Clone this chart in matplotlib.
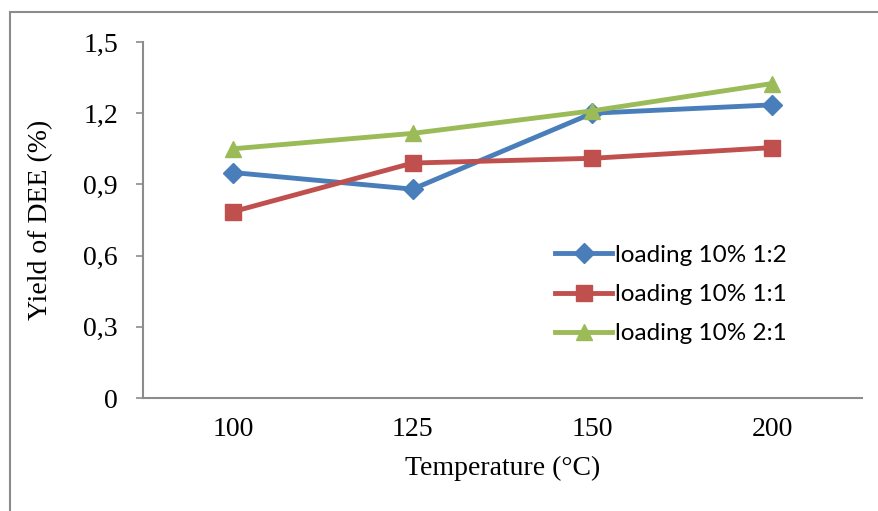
import matplotlib.pyplot as plt
from matplotlib.ticker import FuncFormatter
from matplotlib.patches import Rectangle

temps = ['100', '125', '150', '200']
yield_12 = [0.95, 0.88, 1.20, 1.235]
yield_11 = [0.785, 0.99, 1.01, 1.055]
yield_21 = [1.05, 1.115, 1.21, 1.325]
labels = ['loading 10% 1:2', 'loading 10% 1:1', 'loading 10% 2:1']

fig = plt.figure(figsize=(8.79, 5.11), dpi=100)
# outer chart border (only left and top visible in the crop)
fig.patches.append(Rectangle((10 / 879, -0.05), 1.2, 1 - 12 / 511 + 0.05,
                             transform=fig.transFigure, fill=False,
                             edgecolor='#8c8c8c', linewidth=1.5))

ax = fig.add_axes([143 / 879, 1 - 398 / 511, (862 - 143) / 879, (398 - 42) / 511])

x = range(len(temps))
ax.plot(x, yield_12, color='#4A7EBB', lw=3.5, marker='D', ms=10, label=labels[0])
ax.plot(x, yield_11, color='#C0504D', lw=3.5, marker='s', ms=11, label=labels[1])
ax.plot(x, yield_21, color='#9BBB59', lw=3.5, marker='^', ms=12, label=labels[2])

ax.set_xlim(-0.5, 3.5)
ax.set_ylim(0, 1.5)
ax.set_yticks([0, 0.3, 0.6, 0.9, 1.2, 1.5])
ax.yaxis.set_major_formatter(FuncFormatter(
    lambda v, p: '0' if v == 0 else ('%.1f' % v).replace('.', ',')))
ax.set_xticks(list(x))
ax.set_xticklabels(temps)

for s in ['top', 'right']:
    ax.spines[s].set_visible(False)
for s in ['left', 'bottom']:
    ax.spines[s].set_color('#8c8c8c')
    ax.spines[s].set_linewidth(1.5)

ax.tick_params(axis='y', direction='out', length=5, width=1.2, color='#8c8c8c', pad=13)
ax.tick_params(axis='x', length=0, pad=14)
for t in ax.get_xticklabels() + ax.get_yticklabels():
    t.set_fontfamily('Liberation Serif')
    t.set_fontsize(20)

ax.set_xlabel('Temperature (°C)', fontfamily='Liberation Serif', fontsize=20, labelpad=10)
ax.set_ylabel('Yield of DEE (%)', fontfamily='Liberation Serif', fontsize=20, labelpad=22)

ax.legend(loc='upper left', bbox_to_anchor=(0.573, 0.43), frameon=False,
          prop={'family': 'Lato', 'size': 17.5}, handlelength=2.35,
          handletextpad=0.1, labelspacing=0.75, borderpad=0, borderaxespad=0)

fig.savefig('out.png', dpi=100)
